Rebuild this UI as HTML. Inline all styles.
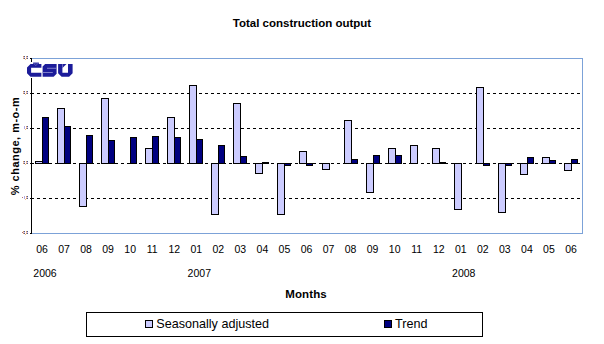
<!DOCTYPE html>
<html><head><meta charset="utf-8">
<style>
html,body{margin:0;padding:0;background:#fff;}
body{width:604px;height:344px;overflow:hidden;}
svg{display:block;}
text{font-family:"Liberation Sans",sans-serif;fill:#000;}
.title{font-size:11.5px;font-weight:bold;}
.ax{font-size:10.5px;}
.xt{font-size:11.5px;font-weight:bold;}
.lg{font-size:12.6px;}
</style></head>
<body>
<svg width="604" height="344" viewBox="0 0 604 344" shape-rendering="crispEdges">
<rect x="0" y="0" width="604" height="344" fill="#fff"/>
<text x="302" y="27" text-anchor="middle" class="title">Total construction output</text>
<line x1="31" y1="93.5" x2="582" y2="93.5" stroke="#000" stroke-width="1" stroke-dasharray="3 3"/><line x1="31" y1="128.5" x2="582" y2="128.5" stroke="#000" stroke-width="1" stroke-dasharray="3 3"/><line x1="31" y1="163.5" x2="582" y2="163.5" stroke="#000" stroke-width="1" stroke-dasharray="3 3"/><line x1="31" y1="198.5" x2="582" y2="198.5" stroke="#000" stroke-width="1" stroke-dasharray="3 3"/>
<rect x="31.5" y="58.5" width="551" height="175" fill="none" stroke="#7CA2D8" stroke-width="1"/>
<rect x="35.5" y="161.5" width="7" height="2" fill="#CCCCFF" stroke="#000" stroke-width="1"/><rect x="42.5" y="117.5" width="6" height="46" fill="#000080" stroke="#000" stroke-width="1"/><rect x="57.5" y="108.5" width="7" height="55" fill="#CCCCFF" stroke="#000" stroke-width="1"/><rect x="64.5" y="126.5" width="6" height="37" fill="#000080" stroke="#000" stroke-width="1"/><rect x="79.5" y="163.5" width="7" height="43" fill="#CCCCFF" stroke="#000" stroke-width="1"/><rect x="86.5" y="135.5" width="6" height="28" fill="#000080" stroke="#000" stroke-width="1"/><rect x="101.5" y="98.5" width="7" height="65" fill="#CCCCFF" stroke="#000" stroke-width="1"/><rect x="108.5" y="140.5" width="6" height="23" fill="#000080" stroke="#000" stroke-width="1"/><rect x="130.5" y="137.5" width="6" height="26" fill="#000080" stroke="#000" stroke-width="1"/><rect x="145.5" y="148.5" width="7" height="15" fill="#CCCCFF" stroke="#000" stroke-width="1"/><rect x="152.5" y="136.5" width="6" height="27" fill="#000080" stroke="#000" stroke-width="1"/><rect x="167.5" y="117.5" width="7" height="46" fill="#CCCCFF" stroke="#000" stroke-width="1"/><rect x="174.5" y="137.5" width="6" height="26" fill="#000080" stroke="#000" stroke-width="1"/><rect x="189.5" y="85.5" width="7" height="78" fill="#CCCCFF" stroke="#000" stroke-width="1"/><rect x="196.5" y="139.5" width="6" height="24" fill="#000080" stroke="#000" stroke-width="1"/><rect x="211.5" y="163.5" width="7" height="51" fill="#CCCCFF" stroke="#000" stroke-width="1"/><rect x="218.5" y="145.5" width="6" height="18" fill="#000080" stroke="#000" stroke-width="1"/><rect x="233.5" y="103.5" width="7" height="60" fill="#CCCCFF" stroke="#000" stroke-width="1"/><rect x="240.5" y="156.5" width="6" height="7" fill="#000080" stroke="#000" stroke-width="1"/><rect x="255.5" y="163.5" width="7" height="10" fill="#CCCCFF" stroke="#000" stroke-width="1"/><rect x="262.5" y="162.5" width="6" height="1" fill="#000080" stroke="#000" stroke-width="1"/><rect x="277.5" y="163.5" width="7" height="51" fill="#CCCCFF" stroke="#000" stroke-width="1"/><rect x="284.5" y="163.5" width="6" height="2" fill="#000080" stroke="#000" stroke-width="1"/><rect x="299.5" y="151.5" width="7" height="12" fill="#CCCCFF" stroke="#000" stroke-width="1"/><rect x="306.5" y="163.5" width="6" height="2" fill="#000080" stroke="#000" stroke-width="1"/><rect x="322.5" y="163.5" width="7" height="6" fill="#CCCCFF" stroke="#000" stroke-width="1"/><rect x="344.5" y="120.5" width="7" height="43" fill="#CCCCFF" stroke="#000" stroke-width="1"/><rect x="351.5" y="159.5" width="6" height="4" fill="#000080" stroke="#000" stroke-width="1"/><rect x="366.5" y="163.5" width="7" height="29" fill="#CCCCFF" stroke="#000" stroke-width="1"/><rect x="373.5" y="155.5" width="6" height="8" fill="#000080" stroke="#000" stroke-width="1"/><rect x="388.5" y="148.5" width="7" height="15" fill="#CCCCFF" stroke="#000" stroke-width="1"/><rect x="395.5" y="155.5" width="6" height="8" fill="#000080" stroke="#000" stroke-width="1"/><rect x="410.5" y="145.5" width="7" height="18" fill="#CCCCFF" stroke="#000" stroke-width="1"/><rect x="432.5" y="148.5" width="7" height="15" fill="#CCCCFF" stroke="#000" stroke-width="1"/><rect x="439.5" y="162.5" width="6" height="1" fill="#000080" stroke="#000" stroke-width="1"/><rect x="454.5" y="163.5" width="7" height="46" fill="#CCCCFF" stroke="#000" stroke-width="1"/><rect x="476.5" y="87.5" width="7" height="76" fill="#CCCCFF" stroke="#000" stroke-width="1"/><rect x="483.5" y="163.5" width="6" height="2" fill="#000080" stroke="#000" stroke-width="1"/><rect x="498.5" y="163.5" width="7" height="49" fill="#CCCCFF" stroke="#000" stroke-width="1"/><rect x="505.5" y="163.5" width="6" height="2" fill="#000080" stroke="#000" stroke-width="1"/><rect x="520.5" y="163.5" width="7" height="11" fill="#CCCCFF" stroke="#000" stroke-width="1"/><rect x="527.5" y="157.5" width="6" height="6" fill="#000080" stroke="#000" stroke-width="1"/><rect x="542.5" y="157.5" width="7" height="6" fill="#CCCCFF" stroke="#000" stroke-width="1"/><rect x="549.5" y="160.5" width="6" height="3" fill="#000080" stroke="#000" stroke-width="1"/><rect x="564.5" y="163.5" width="7" height="7" fill="#CCCCFF" stroke="#000" stroke-width="1"/><rect x="571.5" y="159.5" width="6" height="4" fill="#000080" stroke="#000" stroke-width="1"/>
<line x1="31.5" y1="58" x2="31.5" y2="234" stroke="#000" stroke-width="1"/>
<g stroke="#000" stroke-width="1">
<line x1="30" y1="58.5" x2="31" y2="58.5"/><line x1="30" y1="93.5" x2="31" y2="93.5"/><line x1="30" y1="128.5" x2="31" y2="128.5"/><line x1="30" y1="163.5" x2="31" y2="163.5"/><line x1="30" y1="198.5" x2="31" y2="198.5"/><line x1="30" y1="233.5" x2="31" y2="233.5"/>
</g>
<rect x="23" y="56" width="1" height="3" fill="#d08a3a" opacity="0.85"/><rect x="24" y="56" width="1" height="3" fill="#1f3f8f" opacity="0.85"/><rect x="23" y="57" width="2" height="1" fill="#e8c8d8"/><rect x="26" y="56" width="1" height="3" fill="#d08a3a" opacity="0.85"/><rect x="27" y="56" width="1" height="3" fill="#1f3f8f" opacity="0.85"/><rect x="26" y="57" width="2" height="1" fill="#e8c8d8"/><rect x="25" y="59" width="1" height="1" fill="#f0a050" opacity="0.7"/><rect x="23" y="91" width="1" height="3" fill="#d08a3a" opacity="0.85"/><rect x="24" y="91" width="1" height="3" fill="#1f3f8f" opacity="0.85"/><rect x="23" y="92" width="2" height="1" fill="#e8c8d8"/><rect x="26" y="91" width="1" height="3" fill="#d08a3a" opacity="0.85"/><rect x="27" y="91" width="1" height="3" fill="#1f3f8f" opacity="0.85"/><rect x="26" y="92" width="2" height="1" fill="#e8c8d8"/><rect x="25" y="94" width="1" height="1" fill="#f0a050" opacity="0.7"/><rect x="24" y="126" width="1" height="3" fill="#a8a0e0" opacity="0.9"/><rect x="26" y="126" width="1" height="3" fill="#d08a3a" opacity="0.85"/><rect x="27" y="126" width="1" height="3" fill="#1f3f8f" opacity="0.85"/><rect x="26" y="127" width="2" height="1" fill="#e8c8d8"/><rect x="25" y="129" width="1" height="1" fill="#f0a050" opacity="0.7"/><rect x="23" y="161" width="1" height="3" fill="#d08a3a" opacity="0.85"/><rect x="24" y="161" width="1" height="3" fill="#1f3f8f" opacity="0.85"/><rect x="23" y="162" width="2" height="1" fill="#e8c8d8"/><rect x="26" y="161" width="1" height="3" fill="#d08a3a" opacity="0.85"/><rect x="27" y="161" width="1" height="3" fill="#1f3f8f" opacity="0.85"/><rect x="26" y="162" width="2" height="1" fill="#e8c8d8"/><rect x="25" y="164" width="1" height="1" fill="#f0a050" opacity="0.7"/><rect x="22" y="197" width="1" height="1" fill="#a05050" opacity="0.8"/><rect x="24" y="196" width="1" height="3" fill="#a8a0e0" opacity="0.9"/><rect x="26" y="196" width="1" height="3" fill="#d08a3a" opacity="0.85"/><rect x="27" y="196" width="1" height="3" fill="#1f3f8f" opacity="0.85"/><rect x="26" y="197" width="2" height="1" fill="#e8c8d8"/><rect x="25" y="199" width="1" height="1" fill="#f0a050" opacity="0.7"/><rect x="22" y="232" width="1" height="1" fill="#a05050" opacity="0.8"/><rect x="23" y="231" width="1" height="3" fill="#d08a3a" opacity="0.85"/><rect x="24" y="231" width="1" height="3" fill="#1f3f8f" opacity="0.85"/><rect x="23" y="232" width="2" height="1" fill="#e8c8d8"/><rect x="26" y="231" width="1" height="3" fill="#d08a3a" opacity="0.85"/><rect x="27" y="231" width="1" height="3" fill="#1f3f8f" opacity="0.85"/><rect x="26" y="232" width="2" height="1" fill="#e8c8d8"/><rect x="25" y="234" width="1" height="1" fill="#f0a050" opacity="0.7"/>
<rect x="26" y="62" width="48" height="16" fill="#fff"/>
<g fill="#1C1C9A" shape-rendering="geometricPrecision">
<path d="M30.5,64 L41.4,64 L41.4,67.7 L31.1,67.7 L31.1,72.8 L41.4,72.8 L41.4,76.7 L30.5,76.7 L27,73.2 L27,67.5 Z"/>
<path d="M33.2,62.5 L38.8,62.5 L39.2,64.2 L32.8,64.2 Z" opacity="0.85"/>
<path d="M33.6,63.2 L35.8,65.6 L38.2,63.2" fill="none" stroke="#7c7cc4" stroke-width="0.7"/>
<path d="M45.2,64 L56.6,64 L56.6,73.7 L53.6,76.7 L42.6,76.7 L42.6,66.6 Z"/>
<rect x="47" y="67.8" width="9.6" height="0.9" fill="#8a8ad0"/>
<rect x="42.6" y="72.1" width="10.2" height="0.9" fill="#8a8ad0"/>
<path d="M58.1,64 L62.4,64 L62.4,72.7 L68,72.7 L68,64 L72.6,64 L72.6,73.2 L69.1,76.7 L61.6,76.7 L58.1,73.2 Z"/>
<path d="M62.4,64 L66.5,64 L62.4,68 Z"/><path d="M62.6,64.2 L62.6,67.6" stroke="#8a8ad0" stroke-width="0.5"/>
</g>
<text transform="translate(19,146) rotate(-90)" text-anchor="middle" class="xt" style="font-size:11px;letter-spacing:0.5px">% change, m-o-m</text>
<text x="42.02" y="253" text-anchor="middle" class="ax">06</text><text x="64.06" y="253" text-anchor="middle" class="ax">07</text><text x="86.10" y="253" text-anchor="middle" class="ax">08</text><text x="108.14" y="253" text-anchor="middle" class="ax">09</text><text x="130.18" y="253" text-anchor="middle" class="ax">10</text><text x="152.22" y="253" text-anchor="middle" class="ax">11</text><text x="174.26" y="253" text-anchor="middle" class="ax">12</text><text x="196.30" y="253" text-anchor="middle" class="ax">01</text><text x="218.34" y="253" text-anchor="middle" class="ax">02</text><text x="240.38" y="253" text-anchor="middle" class="ax">03</text><text x="262.42" y="253" text-anchor="middle" class="ax">04</text><text x="284.46" y="253" text-anchor="middle" class="ax">05</text><text x="306.50" y="253" text-anchor="middle" class="ax">06</text><text x="328.54" y="253" text-anchor="middle" class="ax">07</text><text x="350.58" y="253" text-anchor="middle" class="ax">08</text><text x="372.62" y="253" text-anchor="middle" class="ax">09</text><text x="394.66" y="253" text-anchor="middle" class="ax">10</text><text x="416.70" y="253" text-anchor="middle" class="ax">11</text><text x="438.74" y="253" text-anchor="middle" class="ax">12</text><text x="460.78" y="253" text-anchor="middle" class="ax">01</text><text x="482.82" y="253" text-anchor="middle" class="ax">02</text><text x="504.86" y="253" text-anchor="middle" class="ax">03</text><text x="526.90" y="253" text-anchor="middle" class="ax">04</text><text x="548.94" y="253" text-anchor="middle" class="ax">05</text><text x="570.98" y="253" text-anchor="middle" class="ax">06</text>
<text x="45.02" y="277" text-anchor="middle" class="ax">2006</text><text x="199.30" y="277" text-anchor="middle" class="ax">2007</text><text x="463.78" y="277" text-anchor="middle" class="ax">2008</text>
<text x="306" y="298" text-anchor="middle" class="xt" style="letter-spacing:0.12px">Months</text>
<rect x="86.5" y="312.5" width="396" height="24" fill="none" stroke="#000" stroke-width="1"/>
<rect x="145.5" y="320.5" width="7" height="7" fill="#CCCCFF" stroke="#000" stroke-width="1"/>
<text x="156.3" y="328" class="lg">Seasonally adjusted</text>
<rect x="384.5" y="320.5" width="7" height="7" fill="#000080" stroke="#000" stroke-width="1"/>
<text x="395" y="328" class="lg">Trend</text>
</svg>
</body></html>
